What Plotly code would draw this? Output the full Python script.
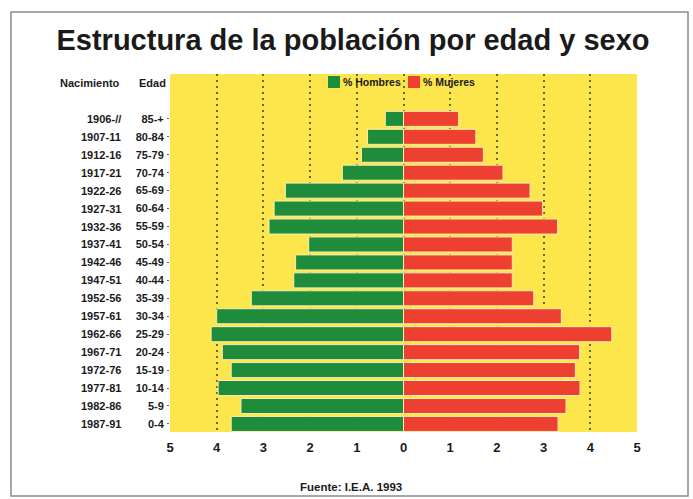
import plotly.graph_objects as go

# ---- data (top row first as in the picture: oldest at top) ----
edad = ["85-+", "80-84", "75-79", "70-74", "65-69", "60-64", "55-59", "50-54",
        "45-49", "40-44", "35-39", "30-34", "25-29", "20-24", "15-19", "10-14",
        "5-9", "0-4"]
nacimiento = ["1906-//", "1907-11", "1912-16", "1917-21", "1922-26", "1927-31",
              "1932-36", "1937-41", "1942-46", "1947-51", "1952-56", "1957-61",
              "1962-66", "1967-71", "1972-76", "1977-81", "1982-86", "1987-91"]
hombres = [0.39, 0.77, 0.90, 1.31, 2.53, 2.77, 2.88, 2.03, 2.31, 2.35, 3.26,
           4.00, 4.12, 3.88, 3.69, 3.97, 3.48, 3.69]
mujeres = [1.18, 1.55, 1.71, 2.13, 2.71, 2.98, 3.30, 2.33, 2.33, 2.33, 2.79,
           3.38, 4.46, 3.77, 3.68, 3.78, 3.48, 3.31]
series_names = ["% Hombres", "% Mujeres"]
x_ticks = [-5, -4, -3, -2, -1, 0, 1, 2, 3, 4, 5]
x_ticklabels = ["5", "4", "3", "2", "1", "0", "1", "2", "3", "4", "5"]

# ---- layout geometry ----
W, H = 693, 499
ML, MR, MT, MB = 170, 56, 74, 67
PW, PH = W - ML - MR, H - MT - MB


def px_x(p):
    return (p - ML) / PW


def px_y(p):
    return 1 - (p - MT) / PH


n = len(edad)
ypos = [n - 1 - i for i in range(n)]  # 0-4 at 0, 85-+ at 17

GREEN = "#1f8c3b"
RED = "#ee4030"
YELLOW = "#fde64b"
GAP = "#f7efb5"
INK = "#1a1a1a"
FONT = "Liberation Sans, Arial, sans-serif"

fig = go.Figure()
fig.add_trace(go.Bar(
    y=ypos, x=[-v for v in hombres], orientation="h", name=series_names[0],
    marker=dict(color=GREEN, line=dict(color=GAP, width=1)), width=0.84,
    showlegend=False,
))
fig.add_trace(go.Bar(
    y=ypos, x=mujeres, orientation="h", name=series_names[1],
    marker=dict(color=RED, line=dict(color=GAP, width=1)), width=0.84,
    showlegend=False,
))

annotations = []
for yv, lab in zip(ypos, nacimiento):
    annotations.append(dict(
        x=px_x(123), xref="paper", y=yv, yref="y", text="<b>%s</b>" % lab,
        showarrow=False, xanchor="right", yanchor="middle",
        font=dict(family=FONT, size=11, color=INK)))
annotations.append(dict(
    x=px_x(122), xref="paper", y=px_y(83), yref="paper",
    text="<b>Nacimiento</b>", showarrow=False, xanchor="right",
    yanchor="middle", font=dict(family=FONT, size=11, color=INK)))
annotations.append(dict(
    x=px_x(168), xref="paper", y=px_y(83), yref="paper", text="<b>Edad</b>",
    showarrow=False, xanchor="right", yanchor="middle",
    font=dict(family=FONT, size=11, color=INK)))
annotations.append(dict(
    x=px_x(351), xref="paper", y=px_y(487), yref="paper",
    text="<b>Fuente: I.E.A. 1993</b>", showarrow=False, xanchor="center",
    yanchor="middle", font=dict(family=FONT, size=11.5, color=INK)))

shapes = [dict(
    type="rect", xref="paper", yref="paper",
    x0=px_x(11), x1=px_x(688), y0=px_y(12), y1=px_y(496),
    line=dict(color="#8a8a8a", width=1.5), fillcolor="rgba(0,0,0,0)",
    layer="below")]

# legend drawn inside the plot top (colour square + label)
legend_items = [(series_names[0], GREEN, 328), (series_names[1], RED, 408)]
for name, col, x0 in legend_items:
    shapes.append(dict(
        type="rect", xref="paper", yref="paper",
        x0=px_x(x0), x1=px_x(x0 + 12), y0=px_y(88), y1=px_y(76),
        line=dict(width=0), fillcolor=col, layer="above"))
    annotations.append(dict(
        x=px_x(x0 + 15), xref="paper", y=px_y(82), yref="paper",
        text="<b>%s</b>" % name, showarrow=False, xanchor="left",
        yanchor="middle", xshift=-2,
        font=dict(family=FONT, size=10.5, color=INK)))

fig.update_layout(
    width=W, height=H,
    margin=dict(l=ML, r=MR, t=MT, b=MB),
    paper_bgcolor="white", plot_bgcolor=YELLOW,
    barmode="relative", bargap=0.16,
    title=dict(text="<b>Estructura de la población por edad y sexo</b>",
               x=px_x(353), xanchor="center", y=1 - 40 / H, yanchor="middle",
               xref="paper",
               font=dict(family=FONT, size=29, color=INK)),
    font=dict(family=FONT, color=INK),
    showlegend=False,
    xaxis=dict(range=[-5, 5], tickvals=x_ticks, ticktext=x_ticklabels,
               showgrid=True, gridcolor="#6b6630", griddash="2px,4px",
               gridwidth=1.6, zeroline=False, showline=False,
               ticks="", ticklabelstandoff=6,
               tickfont=dict(family=FONT, size=13, color=INK,
                             weight="bold")),
    yaxis=dict(range=[-0.45, 19.5], tickvals=ypos, ticktext=edad,
               showgrid=False, zeroline=False, showline=False,
               ticks="outside", ticklen=2, tickcolor="#6b6630",
               ticklabelstandoff=1,
               tickfont=dict(family=FONT, size=11, color=INK,
                             weight="bold")),
    annotations=annotations,
    shapes=shapes,
)

fig.write_html("out.html",
               config={"displayModeBar": False},
               post_script="document.body.style.margin='0px';"
                           "document.body.style.overflow='hidden';")
